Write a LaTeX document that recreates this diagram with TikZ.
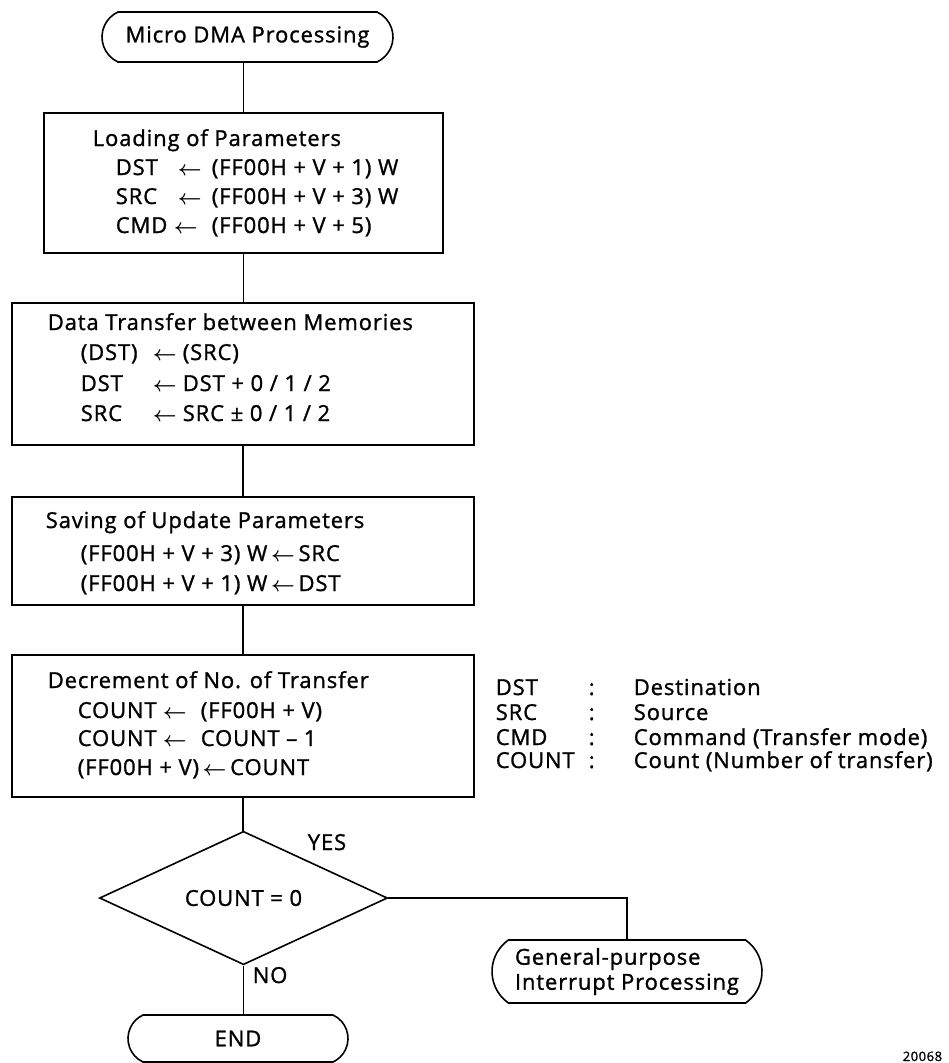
\documentclass[tikz,border=0pt]{standalone}
\usepackage{fontspec}
\setmainfont{Open Sans}[LetterSpace=4, FakeBold=1.2]
\usetikzlibrary{shapes.misc,shapes.geometric}
\newcommand{\la}{{\boldmath$\leftarrow$}}
\begin{document}
\begin{tikzpicture}[x=1pt, y=-1pt, line width=1.6pt,
  font=\fontsize{22}{25}\selectfont,
  box/.style={draw, rectangle, inner sep=0pt},
  term/.style={draw, rounded rectangle, rounded rectangle arc length=130, inner sep=0pt},
  txt/.style={anchor=base west, inner sep=0pt},
  cond/.style={draw, diamond, inner sep=0pt, minimum width=288pt, minimum height=132pt}]
\useasboundingbox (0,0) rectangle (948,1063);

% main flow
\node[term, minimum width=291pt, minimum height=50pt] (start) at (247.5,37) {Micro DMA Processing};
\node[box, minimum width=399pt, minimum height=140pt] (load) at (243.5,183) {};
\node[box, minimum width=462pt, minimum height=142pt] (data) at (243,374) {};
\node[box, minimum width=462pt, minimum height=108pt] (save) at (243,551) {};
\node[box, minimum width=462pt, minimum height=142pt] (decr) at (243,726) {};
\node[cond] (test) at (243.5,898) {COUNT = 0};
\node[term, minimum width=220pt, minimum height=47pt] (end) at (238,1038.5) {END};
\node[term, rounded rectangle arc length=110, minimum width=270pt, minimum height=63pt, align=left] (gp) at (627,971.5) {General-purpose\\Interrupt Processing};

% loading of parameters
\node[txt] (l0) at (92,146) {Loading of Parameters};
\node[txt] (l1) at (115,175) {\makebox[62pt][l]{DST}\makebox[34pt][l]{\la}(FF00H + V + 1) W};
\node[txt] (l2) at (115,204) {\makebox[62pt][l]{SRC}\makebox[34pt][l]{\la}(FF00H + V + 3) W};
\node[txt] (l3) at (115,233) {\makebox[58pt][l]{CMD}\makebox[38pt][l]{\la}(FF00H + V + 5)};

% data transfer
\node[txt] (d0) at (47,330) {Data Transfer between Memories};
\node[txt] (d1) at (80,360) {\makebox[72pt][l]{(DST)}\makebox[30pt][l]{\la}(SRC)};
\node[txt] (d2) at (80,391) {\makebox[72pt][l]{DST}\makebox[30pt][l]{\la}DST + 0 / 1 / 2};
\node[txt] (d3) at (80,421) {\makebox[72pt][l]{SRC}\makebox[30pt][l]{\la}SRC ± 0 / 1 / 2};

% saving
\node[txt] (s0) at (45,528) {Saving of Update Parameters};
\node[txt] (s1) at (80,561) {(FF00H + V + 3) W\,\la\,SRC};
\node[txt] (s2) at (80,591) {(FF00H + V + 1) W\,\la\,DST};

% decrement
\node[txt] (c0) at (47,688) {Decrement of No. of Transfer};
\node[txt] (c1) at (77,718) {\makebox[85pt][l]{COUNT}\makebox[38pt][l]{\la}(FF00H + V)};
\node[txt] (c2) at (77,746) {\makebox[85pt][l]{COUNT}\makebox[38pt][l]{\la}COUNT – 1};
\node[txt] (c3) at (77,775) {(FF00H + V)\,\la\,COUNT};

% legend
\node[txt] (g1) at (495,695) {\makebox[93pt][l]{DST}\makebox[45pt][l]{:}Destination};
\node[txt] (g2) at (495,720) {\makebox[93pt][l]{SRC}\makebox[45pt][l]{:}Source};
\node[txt] (g3) at (495,745) {\makebox[93pt][l]{CMD}\makebox[45pt][l]{:}Command (Transfer mode)};
\node[txt] (g4) at (495,768) {\makebox[93pt][l]{COUNT}\makebox[45pt][l]{:}Count (Number of transfer)};

% branch labels
\node[txt] (yes) at (307,850) {YES};
\node[txt] (no) at (252,983) {NO};

% figure number
\node[txt, font=\fontsize{13}{15}\selectfont] (fig) at (902,1061) {20068};

% connectors
\draw (start.south -| load.north) -- (load.north);
\draw (load.south) -- (load.south |- data.north);
\draw (data.south) -- (save.north);
\draw (save.south) -- (decr.south |- decr.north);
\draw (decr.south) -- (decr.south |- test.north);
\draw (test.south) -- (test.south |- end.north);
\draw (test.east) -| (gp.north);
\end{tikzpicture}
\end{document}
